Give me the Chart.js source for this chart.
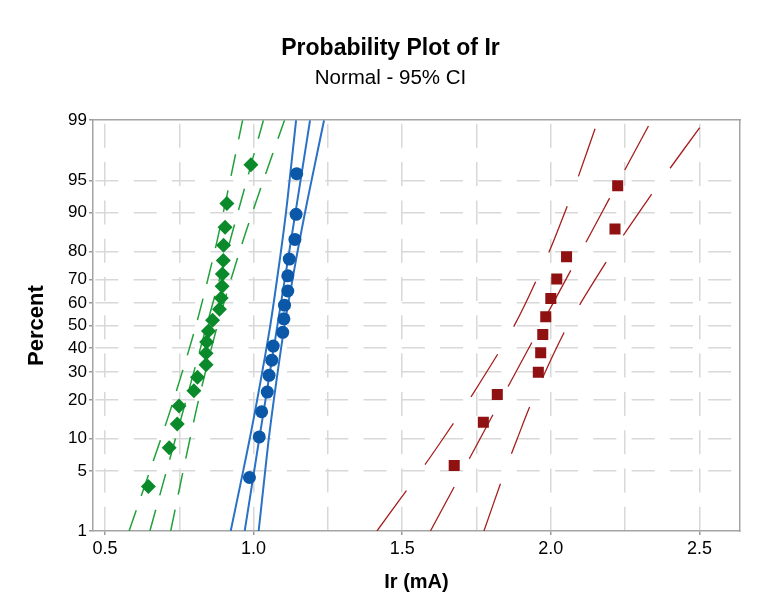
<!DOCTYPE html>
<html>
<head>
<meta charset="utf-8">
<title>Probability Plot of Ir</title>
<script src="https://cdn.jsdelivr.net/npm/chart.js@4.4.1/dist/chart.umd.min.js"></script>
<style>
    html, body { margin: 0; padding: 0; background: #fff; }
    canvas { display: block; }
</style>
</head>
<body>
<canvas id="probPlot" width="761" height="614"></canvas>
<script>
// ── Data ──────────────────────────────────────────────────

const percentTicks = [1, 5, 10, 20, 30, 40, 50, 60, 70, 80, 90, 95, 99];
const xGridValues = [0.5, 0.75, 1.0, 1.25, 1.5, 1.75, 2.0, 2.25, 2.5];
const xTickLabels = ['0.5', '', '1.0', '', '1.5', '', '2.0', '', '2.5'];

// green group (diamonds), n = 20
const greenPct = [3.43, 8.33, 13.24, 18.14, 23.04, 27.94, 32.84, 37.75, 42.65, 47.55,
                  52.45, 57.35, 62.25, 67.16, 72.06, 76.96, 81.86, 86.76, 91.67, 96.57];
const greenIr = [0.646, 0.716, 0.743, 0.749, 0.799, 0.811, 0.840, 0.840, 0.842, 0.848,
                 0.862, 0.885, 0.891, 0.894, 0.895, 0.898, 0.899, 0.904, 0.910, 0.991];

// blue group (dots), n = 16
const bluePct = [4.27, 10.37, 16.46, 22.56, 28.66, 34.76, 40.85, 46.95,
                 53.05, 59.15, 65.24, 71.34, 77.44, 83.54, 89.63, 95.73];
const blueIr = [0.986, 1.019, 1.027, 1.046, 1.052, 1.061, 1.066, 1.098,
                1.102, 1.104, 1.115, 1.115, 1.120, 1.139, 1.143, 1.145];

// red group (squares), n = 12
const redPct = [5.65, 13.71, 21.77, 29.84, 37.90, 45.97, 54.03, 62.10, 70.16, 78.23, 86.29, 94.35];
const redIr = [1.675, 1.773, 1.820, 1.958, 1.966, 1.973, 1.983, 2.000, 2.020, 2.053, 2.216, 2.225];

const ciPct = [1, 5, 10, 20, 50, 80, 90, 95, 99];
const greenLower = [0.581, 0.651, 0.688, 0.731, 0.806, 0.869, 0.898, 0.921, 0.963];
const greenFit   = [0.651, 0.707, 0.737, 0.773, 0.842, 0.911, 0.947, 0.977, 1.033];
const greenUpper = [0.721, 0.763, 0.786, 0.815, 0.878, 0.953, 0.996, 1.033, 1.104];
const blueLower  = [0.923, 0.965, 0.987, 1.012, 1.056, 1.092, 1.109, 1.121, 1.143];
const blueFit    = [0.970, 1.002, 1.019, 1.040, 1.080, 1.120, 1.141, 1.158, 1.190];
const blueUpper  = [1.017, 1.039, 1.051, 1.068, 1.104, 1.148, 1.173, 1.195, 1.237];
const redLower   = [1.415, 1.562, 1.637, 1.725, 1.877, 1.995, 2.047, 2.088, 2.159];
const redFit     = [1.595, 1.704, 1.762, 1.832, 1.967, 2.102, 2.172, 2.230, 2.339];
const redUpper   = [1.775, 1.846, 1.887, 1.939, 2.057, 2.209, 2.297, 2.372, 2.519];

// ── Probability scale helper ───────────────────────────────

// inverse normal CDF (Acklam), used to place percents on the y axis
function probit(p) {
    const a = [-39.69683028665376, 220.9460984245205, -275.9285104469687, 138.3577518672690, -30.66479806614716, 2.506628277459239];
    const b = [-54.47609879822406, 161.5858368580409, -155.6989798598866, 66.80131188771972, -13.28068155288572];
    const c = [-0.007784894002430293, -0.3223964580411365, -2.400758277161838, -2.549732539343734, 4.374664141464968, 2.938163982698783];
    const d = [0.007784695709041462, 0.3224671290700398, 2.445134137142996, 3.754408661907416];
    const lo = 0.02425;
    let q, r;
    if (p < lo) {
        q = Math.sqrt(-2 * Math.log(p));
        return (((((c[0] * q + c[1]) * q + c[2]) * q + c[3]) * q + c[4]) * q + c[5]) /
               ((((d[0] * q + d[1]) * q + d[2]) * q + d[3]) * q + 1);
    }
    if (p > 1 - lo) return -probit(1 - p);
    q = p - 0.5;
    r = q * q;
    return (((((a[0] * r + a[1]) * r + a[2]) * r + a[3]) * r + a[4]) * r + a[5]) * q /
           (((((b[0] * r + b[1]) * r + b[2]) * r + b[3]) * r + b[4]) * r + 1);
}

const toPoints = (xs, pcts) => xs.map((x, i) => ({ x: x, y: probit(pcts[i] / 100) }));

// ── Chart.js Setup ────────────────────────────────────────

const GREEN = '#0a8a2a', GREEN_LINE = '#22a13a';
const BLUE = '#0b57a8', BLUE_LINE = '#2a72c6';
const RED = '#8f1111', RED_LINE = '#a51f1f';

function markers(label, xs, pcts, color, style, radius) {
    return {
        label: label,
        data: toPoints(xs, pcts),
        backgroundColor: color,
        borderColor: color,
        borderWidth: 0,
        pointStyle: style,
        pointRadius: radius,
        showLine: false,
        order: 0
    };
}

function band(xs, color, width, dash, tension) {
    return {
        data: toPoints(xs, ciPct),
        borderColor: color,
        borderWidth: width,
        borderDash: dash,
        pointRadius: 0,
        showLine: true,
        tension: tension,
        fill: false,
        order: 1
    };
}

const fontFamily = '"Liberation Sans", Arial, sans-serif';

new Chart(document.getElementById('probPlot'), {
    type: 'scatter',
    data: {
        datasets: [
            markers('Green', greenIr, greenPct, GREEN, 'rectRot', 7.5),
            markers('Blue', blueIr, bluePct, BLUE, 'circle', 6.5),
            markers('Red', redIr, redPct, RED, 'rect', 7.8),
            band(greenLower, GREEN_LINE, 1.5, [22, 15], 0.3),
            band(greenFit, GREEN_LINE, 1.5, [22, 15], 0),
            band(greenUpper, GREEN_LINE, 1.5, [22, 15], 0.3),
            band(blueLower, BLUE_LINE, 2, [], 0.3),
            band(blueFit, BLUE_LINE, 2, [], 0),
            band(blueUpper, BLUE_LINE, 2, [], 0.3),
            band(redLower, RED_LINE, 1.3, [50, 32], 0.3),
            band(redFit, RED_LINE, 1.3, [50, 32], 0),
            band(redUpper, RED_LINE, 1.3, [50, 32], 0.3)
        ]
    },
    options: {
        responsive: false,
        animation: false,
        events: [],
        layout: { padding: { left: 20, right: 0, top: 0, bottom: 0 } },
        plugins: {
            legend: { display: false },
            tooltip: { enabled: false },
            title: {
                display: true,
                text: 'Probability Plot of Ir',
                color: '#000',
                font: { family: fontFamily, size: 23, weight: 'bold', lineHeight: 1.2 },
                padding: { top: 35, bottom: 3 }
            },
            subtitle: {
                display: true,
                text: 'Normal - 95% CI',
                color: '#000',
                font: { family: fontFamily, size: 20.5, lineHeight: 1.2 },
                padding: { top: 0, bottom: 30 }
            }
        },
        scales: {
            x: {
                type: 'linear',
                position: 'bottom',
                min: 0.4596,
                max: 2.6366,
                afterBuildTicks: s => { s.ticks = xGridValues.map(v => ({ value: v })); },
                afterFit: s => { s.height = 83; },
                ticks: {
                    color: '#000',
                    padding: 3,
                    maxRotation: 0,
                    autoSkip: false,
                    font: { family: fontFamily, size: 18 },
                    callback: (v, i) => xTickLabels[i]
                },
                grid: {
                    color: '#d8d8d8',
                    lineWidth: 1.5,
                    tickLength: 4,
                    tickWidth: 1.5,
                    tickColor: ctx => (xTickLabels[ctx.index] ? '#9a9a9a' : 'rgba(0,0,0,0)')
                },
                border: { color: '#a4a4a4', width: 1.5, dash: [24, 14.3], dashOffset: 34.7 },
                title: {
                    display: true,
                    text: 'Ir (mA)',
                    color: '#000',
                    font: { family: fontFamily, size: 20, weight: 'bold', lineHeight: 1.2 },
                    padding: { top: 0, bottom: 20 }
                }
            },
            x2: {
                type: 'linear',
                position: 'top',
                afterFit: s => { s.height = 0; },
                ticks: { display: false },
                grid: { display: false, drawTicks: false },
                border: { color: '#a4a4a4', width: 1.5 }
            },
            y: {
                type: 'linear',
                position: 'left',
                min: probit(0.01),
                max: probit(0.99),
                afterBuildTicks: s => { s.ticks = percentTicks.map(p => ({ value: probit(p / 100) })); },
                afterFit: s => { s.width = 73; },
                ticks: {
                    color: '#000',
                    padding: 2,
                    autoSkip: false,
                    font: { family: fontFamily, size: 17 },
                    callback: (v, i) => String(percentTicks[i])
                },
                grid: {
                    color: ctx => (ctx.index === 0 || ctx.index === percentTicks.length - 1 ? 'rgba(0,0,0,0)' : '#d8d8d8'),
                    lineWidth: 1.5,
                    tickLength: 4,
                    tickWidth: 1.5,
                    tickColor: '#9a9a9a'
                },
                border: { color: '#a4a4a4', width: 1.5, dash: [23, 15.3], dashOffset: 36.4 },
                title: {
                    display: true,
                    text: 'Percent',
                    color: '#000',
                    font: { family: fontFamily, size: 22, weight: 'bold', lineHeight: 1.2 },
                    padding: { top: 4, bottom: 0 }
                }
            },
            y2: {
                type: 'linear',
                position: 'right',
                afterFit: s => { s.width = 21; },
                ticks: { display: false },
                grid: { display: false, drawTicks: false },
                border: { color: '#a4a4a4', width: 1.5 }
            }
        }
    }
});
</script>
</body>
</html>
